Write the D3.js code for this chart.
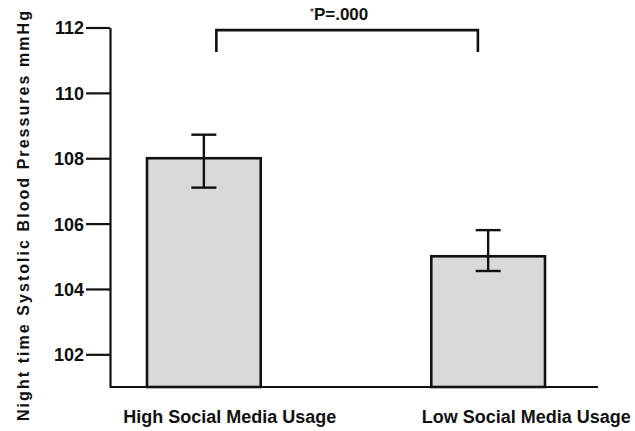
<!DOCTYPE html>
<html>
<head>
<meta charset="utf-8">
<script src="https://cdn.jsdelivr.net/npm/d3@7"></script>
<style>
  html, body { margin: 0; padding: 0; background: #fff; }
  svg { display: block; }
  text { font-family: Arial, "Liberation Sans", sans-serif; font-weight: bold; fill: #111; }
</style>
</head>
<body>
<svg id="chart" width="635" height="431"></svg>
<script>
// Group names and mean night-time systolic pressure (mmHg)
const categories = ["High Social Media Usage", "Low Social Media Usage"];
const means = [108.0, 105.0];
// Error bar ends (mmHg)
const errUpper = [108.72, 105.8];
const errLower = [107.1, 104.55];
// Axis ticks and annotation
const yTicks = [102, 104, 106, 108, 110, 112];
const yDomain = [101, 112];
const yTitle = "Night time Systolic Blood Pressures mmHg";
const sigMark = "*";
const sigLabel = "P=.000";
const sigLevel = 111.92;   // height of the bracket bar
const sigLegEnd = 111.25;  // bottom of the bracket legs

const svg = d3.select("#chart");

const y = d3.scaleLinear().domain(yDomain).range([387, 27.5]);
const x = d3.scaleBand().domain(categories).range([147, 545]).paddingInner(0.6);
const xLabel = d3.scaleBand().domain(categories).range([121, 635]).paddingInner(0.267);
const bw = x.bandwidth();

// Y axis
const yAxis = svg.append("g")
  .attr("transform", "translate(110,0)")
  .call(d3.axisLeft(y).tickValues(yTicks).tickSize(24).tickSizeOuter(0).tickPadding(2)
        .tickFormat(d3.format("d")));
yAxis.select(".domain").attr("stroke", "#111").attr("stroke-width", 2.2);
yAxis.selectAll(".tick line").attr("stroke", "#111").attr("stroke-width", 2.2);
yAxis.selectAll(".tick text")
  .style("font-size", "18px").attr("fill", "#111").attr("dy", "0.36em");

// X baseline
svg.append("line")
  .attr("x1", 110).attr("x2", 598)
  .attr("y1", y(yDomain[0])).attr("y2", y(yDomain[0]))
  .attr("stroke", "#111").attr("stroke-width", 2.2);

// Bars
svg.selectAll("rect.bar").data(categories).join("rect")
  .attr("class", "bar")
  .attr("x", d => x(d))
  .attr("width", bw)
  .attr("y", (d, i) => y(means[i]))
  .attr("height", (d, i) => y(yDomain[0]) - y(means[i]))
  .attr("fill", "#d9d9d9")
  .attr("stroke", "#111")
  .attr("stroke-width", 2.6);

// Error bars
const capW = 25;
const eb = svg.selectAll("g.err").data(categories).join("g").attr("class", "err")
  .attr("stroke", "#111").attr("stroke-width", 2.4);
eb.append("line")
  .attr("x1", d => x(d) + bw / 2).attr("x2", d => x(d) + bw / 2)
  .attr("y1", (d, i) => y(errUpper[i])).attr("y2", (d, i) => y(errLower[i]));
eb.append("line")
  .attr("x1", d => x(d) + bw / 2 - capW / 2).attr("x2", d => x(d) + bw / 2 + capW / 2)
  .attr("y1", (d, i) => y(errUpper[i])).attr("y2", (d, i) => y(errUpper[i]));
eb.append("line")
  .attr("x1", d => x(d) + bw / 2 - capW / 2).attr("x2", d => x(d) + bw / 2 + capW / 2)
  .attr("y1", (d, i) => y(errLower[i])).attr("y2", (d, i) => y(errLower[i]));

// Category labels
svg.selectAll("text.xlab").data(categories).join("text")
  .attr("class", "xlab")
  .attr("x", d => xLabel(d) + xLabel.bandwidth() / 2)
  .attr("y", 423)
  .attr("text-anchor", "middle")
  .style("font-size", "18px")
  .text(d => d);

// Significance bracket
const bx1 = x(categories[0]) + bw * 0.61;
const bx2 = x(categories[1]) + bw * 0.41;
svg.append("path")
  .attr("d", `M${bx1},${y(sigLegEnd)}V${y(sigLevel)}H${bx2}V${y(sigLegEnd)}`)
  .attr("fill", "none").attr("stroke", "#111").attr("stroke-width", 2.6);
const sig = svg.append("text")
  .attr("x", (bx1 + bx2) / 2 - 8)
  .attr("y", 20)
  .attr("text-anchor", "middle")
  .style("font-size", "17px");
sig.append("tspan").style("font-size", "10px").style("font-weight", "normal")
  .attr("dy", "-4").text(sigMark);
sig.append("tspan").attr("dy", "4").text(sigLabel);

// Y axis title
svg.append("text")
  .attr("transform", "translate(29,216) rotate(-90)")
  .attr("text-anchor", "middle")
  .style("font-size", "16px")
  .attr("textLength", 410)
  .attr("lengthAdjust", "spacing")
  .text(yTitle);
</script>
</body>
</html>
